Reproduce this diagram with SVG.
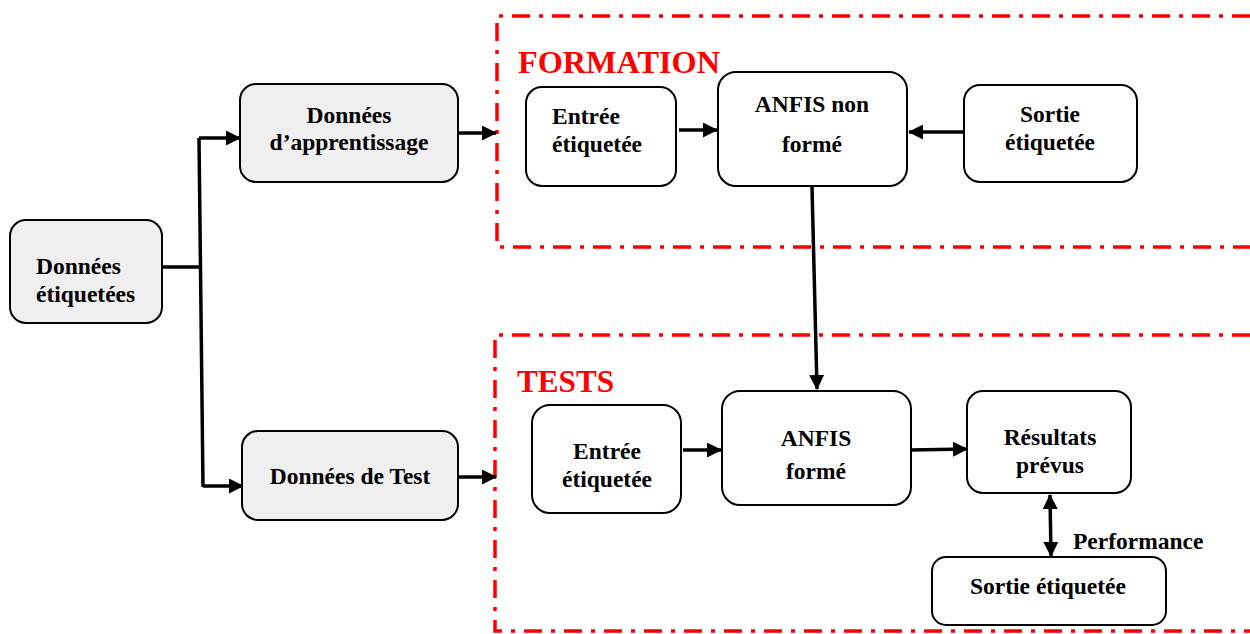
<svg xmlns="http://www.w3.org/2000/svg" width="1250" height="634" viewBox="0 0 1250 634">
  <defs>
    <marker id="arrow" viewBox="0 0 15 15" refX="14" refY="7.5" markerWidth="15" markerHeight="15" markerUnits="userSpaceOnUse" orient="auto-start-reverse">
      <path d="M0,0 L15,7.5 L0,15 Z" fill="#000"/>
    </marker>
    <style>
      .box { fill: #fff; stroke: #000; stroke-width: 2; }
      .grey { fill: #efefef; }
      .lbl { font-family: "Liberation Serif", "Times New Roman", serif; font-weight: bold; font-size: 23.5px; fill: #000; }
      .c { text-anchor: middle; }
      .zone { fill: none; stroke: #ff0000; stroke-width: 3.5; stroke-dasharray: 18 9 4 9; }
      .title { font-family: "Liberation Serif", "Times New Roman", serif; font-weight: bold; font-size: 31px; fill: #ff0000; }
      .edge { fill: none; stroke: #000; stroke-width: 3.5; }
    </style>
  </defs>

  <rect width="1250" height="634" fill="#fff"/>

  <!-- phase zones -->
  <g id="zone-formation">
    <path class="zone" d="M1250,16 L497,16 L497,247 L1250,247"/>
    <text class="title" x="518" y="73" textLength="202" lengthAdjust="spacingAndGlyphs">FORMATION</text>
  </g>
  <g id="zone-tests">
    <path class="zone" d="M1250,335 L495,335 L495,631 L1250,631"/>
    <text class="title" x="517" y="392" textLength="97" lengthAdjust="spacingAndGlyphs">TESTS</text>
  </g>

  <!-- connectors -->
  <g id="connectors">
    <path class="edge" d="M162,267 L201,267"/>
    <path class="edge" d="M199,138 L203,487"/>
    <path class="edge" d="M199,138 L240,138" marker-end="url(#arrow)"/>
    <path class="edge" d="M203,486 L243,486" marker-end="url(#arrow)"/>
    <path class="edge" d="M458,133 L496,133" marker-end="url(#arrow)"/>
    <path class="edge" d="M458,477 L496,477" marker-end="url(#arrow)"/>
    <path class="edge" d="M679,130 L717,130" marker-end="url(#arrow)"/>
    <path class="edge" d="M963,132 L909,132" marker-end="url(#arrow)"/>
    <path class="edge" d="M812,187 L817,389" marker-end="url(#arrow)"/>
    <path class="edge" d="M683,450 L721,450" marker-end="url(#arrow)"/>
    <path class="edge" d="M910,450 L967,449" marker-end="url(#arrow)"/>
    <path class="edge" d="M1050,495 L1051,556" marker-start="url(#arrow)" marker-end="url(#arrow)"/>
  </g>

  <!-- source data -->
  <g id="donnees-etiquetees">
    <rect class="box grey" x="10" y="220" width="152" height="103" rx="16"/>
    <text class="lbl" x="36" y="274">Données</text>
    <text class="lbl" x="36" y="302">étiquetées</text>
  </g>
  <g id="donnees-apprentissage">
    <rect class="box grey" x="240" y="84" width="218" height="98" rx="16"/>
    <text class="lbl c" x="349" y="123">Données</text>
    <text class="lbl c" x="349" y="150">d’apprentissage</text>
  </g>
  <g id="donnees-test">
    <rect class="box grey" x="242" y="431" width="216" height="89" rx="16"/>
    <text class="lbl c" x="350" y="484">Données de Test</text>
  </g>

  <!-- training stage -->
  <g id="formation-entree">
    <rect class="box" x="526" y="87" width="150" height="99" rx="16"/>
    <text class="lbl" x="552" y="124">Entrée</text>
    <text class="lbl" x="552" y="152">étiquetée</text>
  </g>
  <g id="anfis-non-forme">
    <rect class="box" x="718" y="72" width="189" height="114" rx="18"/>
    <text class="lbl c" x="812" y="112">ANFIS non</text>
    <text class="lbl c" x="812" y="152">formé</text>
  </g>
  <g id="formation-sortie">
    <rect class="box" x="964" y="85" width="173" height="97" rx="16"/>
    <text class="lbl c" x="1050" y="122">Sortie</text>
    <text class="lbl c" x="1050" y="150">étiquetée</text>
  </g>

  <!-- test stage -->
  <g id="tests-entree">
    <rect class="box" x="532" y="405" width="149" height="108" rx="18"/>
    <text class="lbl c" x="607" y="459">Entrée</text>
    <text class="lbl c" x="607" y="487">étiquetée</text>
  </g>
  <g id="anfis-forme">
    <rect class="box" x="722" y="391" width="189" height="114" rx="18"/>
    <text class="lbl c" x="816" y="446">ANFIS</text>
    <text class="lbl c" x="816" y="479">formé</text>
  </g>
  <g id="resultats-prevus">
    <rect class="box" x="967" y="391" width="164" height="102" rx="16"/>
    <text class="lbl c" x="1050" y="445">Résultats</text>
    <text class="lbl c" x="1050" y="473">prévus</text>
  </g>
  <g id="tests-sortie">
    <rect class="box" x="932" y="557" width="234" height="68" rx="14"/>
    <text class="lbl c" x="1048" y="594">Sortie étiquetée</text>
  </g>
  <text class="lbl" x="1073" y="549" font-size="21.5">Performance</text>
</svg>
